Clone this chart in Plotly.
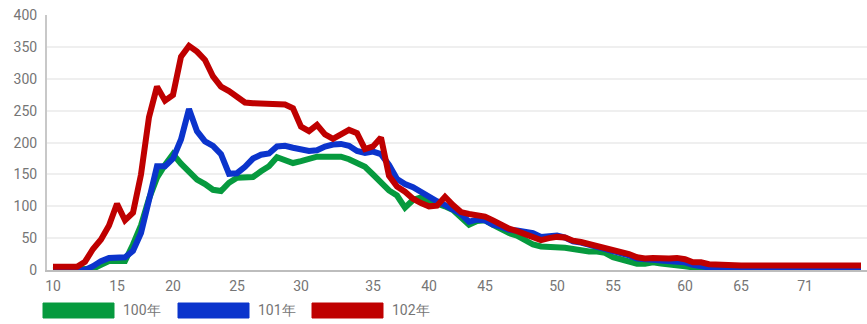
import plotly.graph_objects as go

# x axis: one point per category, labels shown only at some of them
tick_labels = ["10", "15", "20", "25", "30", "35", "40", "45", "50", "55", "60", "65", "71"]
tick_index = [0, 8, 15, 23, 31, 40, 47, 54, 63, 70, 79, 86, 94]

series_names = ["100年", "101年", "102年"]

y100 = [0, 0, 0, 0, 0, 2, 8, 14, 14, 14,
        40, 70, 112, 145, 165, 182, 167, 153, 142, 135,
        126, 124, 137, 145, 145, 146, 155, 163, 177, 172,
        168, 171, 175, 178, 178, 178, 178, 174, 169, 162,
        150, 138, 125, 117, 98, 110, 114, 109, 105, 100,
        94, 84, 71, 77, 78, 71, 64, 58, 54, 48,
        40, 37, 37, 37, 35, 33, 30, 29, 29, 27,
        20, 16, 12, 10, 10, 12, 10, 9, 9, 6,
        4, 3, 2, 1, 1, 0, 0, 0, 0, 0,
        0, 0, 0, 0, 0, 0, 0, 0, 0, 0,
        0, 0]

y101 = [0, 0, 0, 0, 0, 6, 14, 19, 19, 20,
        30, 58, 110, 163, 163, 175, 205, 253, 218, 202,
        195, 182, 151, 152, 162, 175, 181, 183, 194, 195,
        192, 189, 187, 188, 194, 197, 198, 195, 187, 184,
        186, 182, 165, 143, 135, 130, 122, 114, 108, 102,
        95, 88, 76, 79, 78, 71, 68, 63, 62, 59,
        58, 52, 53, 54, 51, 45, 43, 40, 36, 33,
        30, 27, 23, 18, 16, 16, 15, 14, 14, 12,
        8, 7, 4, 2, 1, 0, 0, 0, 0, 0,
        0, 0, 0, 0, 0, 0, 0, 0, 0, 0,
        0, 0]

y102 = [5, 5, 5, 5, 13, 33, 48, 70, 104, 78,
        90, 150, 240, 288, 266, 275, 335, 352, 343, 330,
        304, 288, 281, 272, 263, 262, 262, 262, 262, 260,
        254, 225, 218, 228, 213, 206, 213, 220, 215, 190,
        194, 208, 148, 131, 123, 112, 105, 100, 101, 115,
        102, 91, 88, 86, 84, 78, 71, 65, 61, 56,
        51, 47, 50, 52, 51, 46, 44, 41, 37, 35,
        32, 29, 25, 20, 18, 19, 18, 18, 19, 17,
        12, 12, 9, 8, 7, 7, 7, 7, 7, 7,
        7, 7, 7, 7, 7, 7, 7, 7, 7, 7,
        7, 7]

colors = ["#069a3e", "#0b34cc", "#bf0000"]

W, H = 867, 324
ML, MR, MT, MB = 47, 0, 15, 54
PW, PH = W - ML - MR, H - MT - MB
FONT = "Roboto, Arial, sans-serif"
GREY = "#757575"

x = list(range(len(y100)))

fig = go.Figure()
for name, ys, c in zip(series_names, [y100, y101, y102], colors):
    fig.add_trace(go.Scatter(x=x, y=ys, mode="lines", name=name,
                             line=dict(color=c, width=6),
                             showlegend=False))


# pixel -> paper fraction
def px_x(p):
    return (p - ML) / PW


def px_y(p):
    return (H - MB - p) / PH


# hand-made legend below the plot (wide colour blocks like the original)
shapes = []
annotations = []
legend_left = [43, 178, 312]
for name, c, left in zip(series_names, colors, legend_left):
    shapes.append(dict(type="rect", xref="paper", yref="paper",
                       x0=px_x(left), x1=px_x(left + 71),
                       y0=px_y(318), y1=px_y(303),
                       fillcolor=c, line=dict(color=c, width=1)))
    annotations.append(dict(text=name, xref="paper", yref="paper",
                            x=px_x(left + 78), y=px_y(310.5),
                            xanchor="left", yanchor="middle", showarrow=False,
                            font=dict(family=FONT, size=14, color=GREY)))

fig.update_layout(
    width=W, height=H,
    margin=dict(l=ML, r=MR, t=MT, b=MB, autoexpand=False),
    plot_bgcolor="white",
    paper_bgcolor="white",
    shapes=shapes,
    annotations=annotations,
    xaxis=dict(
        range=[-0.75, 101.75],
        tickmode="array",
        tickvals=tick_index,
        ticktext=tick_labels,
        showgrid=False,
        zeroline=False,
        showline=True,
        linecolor="#bdbdbd",
        linewidth=2,
        ticks="",
        ticklabelstandoff=2,
        automargin=False,
        tickfont=dict(family=FONT, size=14, color=GREY),
    ),
    yaxis=dict(
        range=[0, 400.5],
        dtick=50,
        showgrid=True,
        gridcolor="#efefef",
        gridwidth=2,
        zeroline=False,
        showline=True,
        linecolor="#c8c8c8",
        linewidth=2,
        ticks="",
        ticklabelstandoff=5,
        automargin=False,
        tickfont=dict(family=FONT, size=14, color=GREY),
    ),
    font=dict(family=FONT, size=14, color=GREY),
)

# drop the default page margin so the figure sits at the window's corner
fig.write_html("out.html", config={"displayModeBar": False},
               post_script="document.body.style.margin='0';")
